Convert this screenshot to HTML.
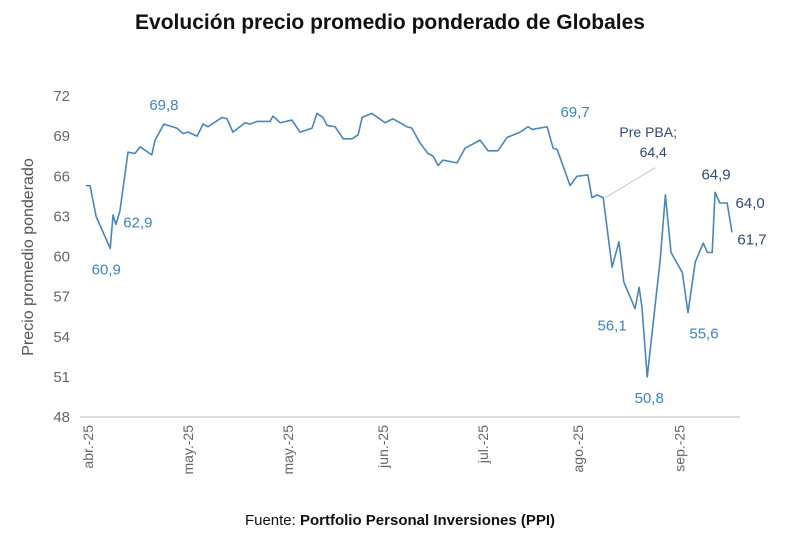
<!DOCTYPE html>
<html><head><meta charset="utf-8"><style>
body{margin:0;background:#fff;width:800px;height:530px;overflow:hidden;font-family:"Liberation Sans",sans-serif}
</style></head><body>
<svg id="c" width="800" height="530" xmlns="http://www.w3.org/2000/svg">
<text x="390" y="29" text-anchor="middle" font-size="21" font-weight="bold" fill="#111">Evolución precio promedio ponderado de Globales</text>
<text transform="translate(33,257) rotate(-90)" text-anchor="middle" font-size="16" fill="#555">Precio promedio ponderado</text>
<text x="400" y="525" text-anchor="middle" font-size="15" fill="#111">Fuente: <tspan font-weight="bold">Portfolio Personal Inversiones (PPI)</tspan></text>
<line x1="80" y1="417" x2="740" y2="417" stroke="#d0d0d0" stroke-width="1.5"/>
<g id="g"></g>
</svg>
<script>
const days=[0,1,2.5,6,6.7,7.4,8.4,10.4,12.1,13.4,16.3,17.1,19.3,22.5,24,25.3,27.5,29,30.2,33.7,34.9,36.4,39.4,40.6,42.4,45.6,46.3,48.1,51,53,56,57.2,58.7,59.7,61.7,63.7,65.9,67.4,68.4,70.8,74.1,76,79.5,80.7,82.7,84.7,86,87.2,88.4,91.9,93.9,97.6,99.6,102,104.3,107.5,109.5,110.5,114.2,115.7,116.7,119.9,121.6,124.3,125.3,126.6,128.1,130.3,132,133.2,136,137,137.7,139,142.2,143.5,144.9,147.7,149.1,150.9,152.9,153.9,155.1,155.8,157,158.8,160];
const values=[65.3,65.3,63.0,60.6,63.1,62.4,63.4,67.8,67.7,68.2,67.6,68.7,69.9,69.6,69.2,69.3,69.0,69.9,69.7,70.4,70.3,69.3,70.0,69.9,70.1,70.1,70.5,70.0,70.2,69.3,69.6,70.7,70.4,69.8,69.7,68.8,68.8,69.1,70.4,70.7,70.0,70.3,69.7,69.6,68.5,67.7,67.5,66.8,67.2,67.0,68.1,68.7,67.9,67.9,68.9,69.3,69.7,69.5,69.7,68.1,68.0,65.3,66.0,66.1,64.4,64.6,64.4,59.2,61.1,58.1,56.1,57.7,56.2,51.0,59.7,64.6,60.3,58.8,55.8,59.6,61.0,60.3,60.3,64.8,64.0,64.0,61.8];
const yTicks=[48,51,54,57,60,63,66,69,72];
const xTickDays=[0.5,25.3,50,73.5,98.3,121.8,147];
const xTickLabels=["abr.-25","may.-25","may.-25","jun.-25","jul.-25","ago.-25","sep.-25"];
const annIdx=[3,12,5,58,70,73,78,83,85,86];
const annText=["60,9","69,8","62,9","69,7","56,1","50,8","55,6","64,9","64,0","61,7"];
const annDx=[-4,0,22,28,-23,2,16,1,23,20];
const annDy=[26,-14,3,-10,22,26,26,-13,5,12];
const annDark=[0,0,0,0,0,0,0,1,1,1];
const X=d=>86+d*(646/160);
const Y=v=>96+(72-v)*(321/24);
const NS="http://www.w3.org/2000/svg";
const g=document.getElementById('g');
function mk(t,a){const e=document.createElementNS(NS,t);for(const k in a)e.setAttribute(k,a[k]);g.appendChild(e);return e;}
yTicks.forEach(v=>{const t=mk('text',{x:70,y:Y(v)+5,'text-anchor':'end','font-size':15,fill:'#666'});

t.textContent=v;});
xTickDays.forEach((d,i)=>{const x=X(d);const t=mk('text',{transform:`translate(${x+5},425) rotate(-90)`,'text-anchor':'end','font-size':14,fill:'#666'});

t.textContent=xTickLabels[i];});
const p=mk('polyline',{points:days.map((d,i)=>X(d)+','+Y(values[i])).join(' '),fill:'none',stroke:'#4a86b8','stroke-width':1.6,'stroke-linejoin':'round'});


const pd=128.1,pv=64.4;
const l=mk('line',{x1:X(pd)+2,y1:Y(pv),x2:X(pd)+52,y2:Y(pv)-30,stroke:'#c8c8c8','stroke-width':1});


const pt=mk('text',{x:X(pd)+45,y:137,'text-anchor':'middle','font-size':14,fill:'#2e4a7a'});


pt.innerHTML='<tspan x="'+(X(pd)+45)+'">Pre PBA;</tspan><tspan x="'+(X(pd)+50)+'" dy="20">64,4</tspan>';
annIdx.forEach((k,i)=>{const d=days[k];const v=values[k];
const t=mk('text',{x:X(d)+annDx[i],y:Y(v)+annDy[i],'text-anchor':'middle','font-size':15,fill:annDark[i]?'#2e4a7a':'#3a86c0'});

t.textContent=annText[i];});
</script>
</body></html>
